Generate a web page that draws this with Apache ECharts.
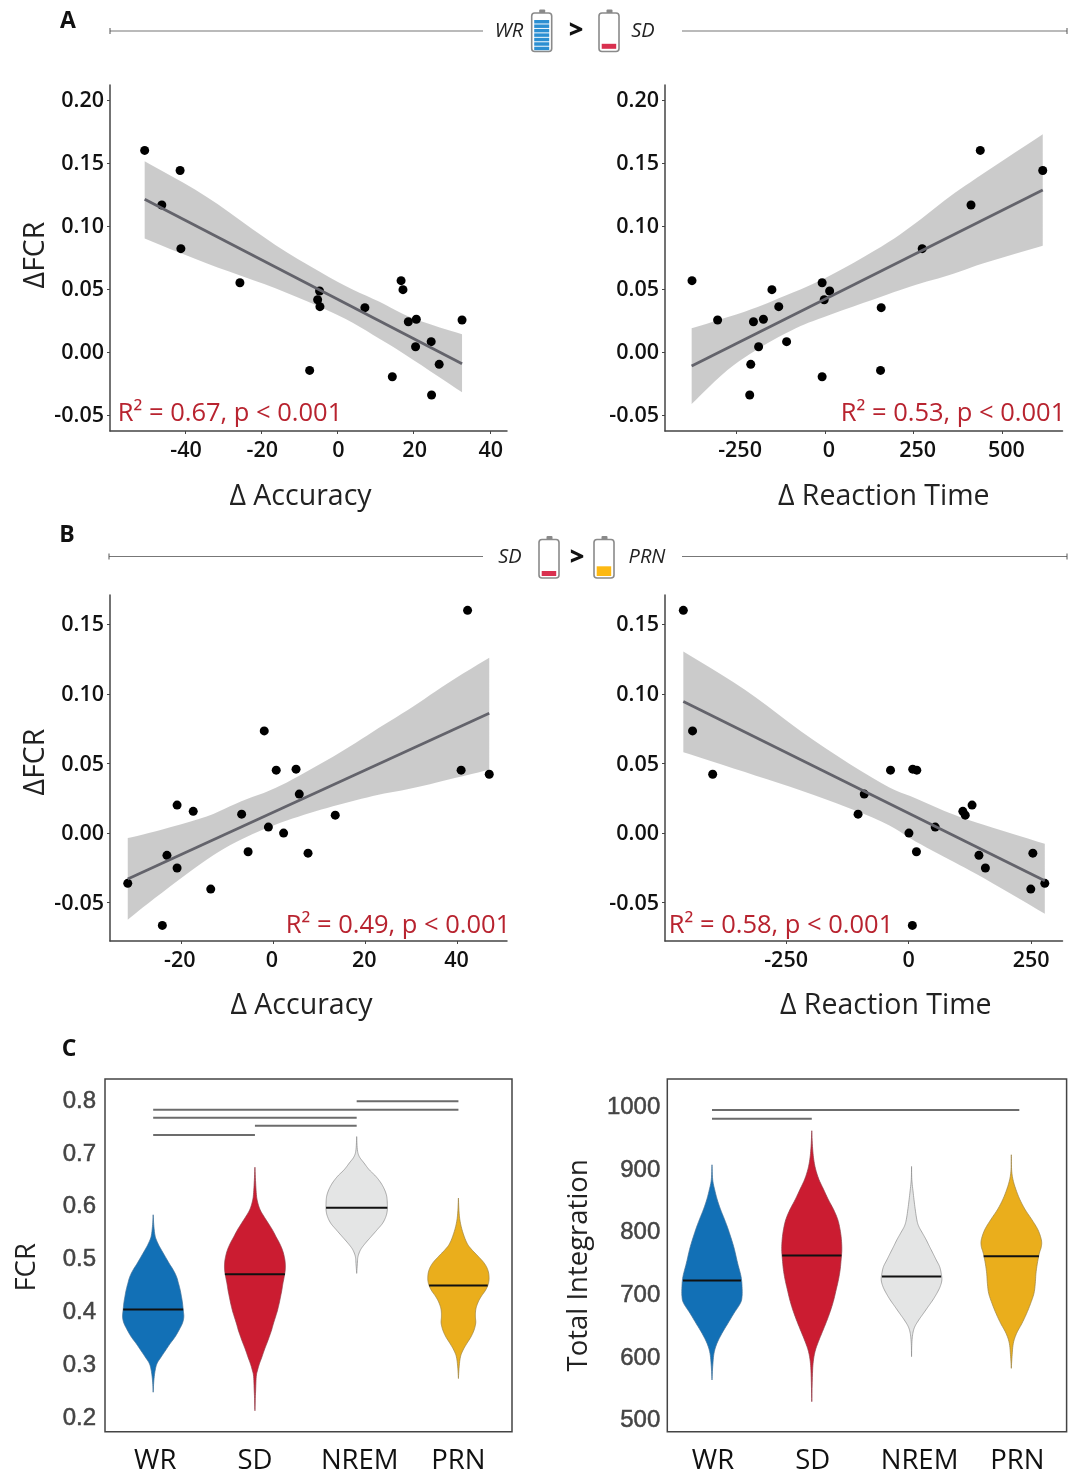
<!DOCTYPE html>
<html><head><meta charset="utf-8">
<style>html,body{margin:0;padding:0;background:#fff}#c{width:1075px;height:1473px}</style>
<script src="https://cdn.jsdelivr.net/npm/echarts@6/dist/echarts.min.js"></script>
</head><body><div id="c"></div>
<script>
// ---- Panel A, delta accuracy
const aAccX=[-50.6,-41.3,-46.1,-41.1,-25.6,-4.7,-5.2,-4.6,7.2,16.7,17.2,18.6,20.7,32.7,24.6,20.5,26.7,-7.3,14.4,24.7];
const aAccY=[0.160,0.144,0.1167,0.082,0.055,0.0484,0.0415,0.036,0.0352,0.0566,0.0495,0.024,0.026,0.0254,0.0082,0.0042,-0.0098,-0.0146,-0.0196,-0.0341];
const aAccFitX=[-50.6,32.7];
const aAccFitY=[0.1212,-0.0093];
const aAccBandX=[-50.6,-34.4,-16.3,0,10.9,19.9,32.7];
const aAccUpper=[0.1513,0.1233,0.085,0.0558,0.04,0.0267,0.014];
const aAccLower=[0.09,0.0704,0.0505,0.0294,0.0108,-0.0063,-0.032];
// ---- Panel A, delta reaction time
const aRtX=[-374,-301.9,-201,-173,-149,-129.8,-186.5,-107.7,-208.6,-211.5,-7.7,13.5,-1.9,-7.7,158.6,156.7,274,411.5,437.5,613.4];
const aRtY=[0.0566,0.0254,0.024,0.026,0.0495,0.036,0.0042,0.0082,-0.0098,-0.0341,0.055,0.0484,0.0415,-0.0196,0.0352,-0.0146,0.082,0.1167,0.160,0.144];
const aRtFitX=[-375,613.4];
const aRtFitY=[-0.0111,0.1286];
const aRtUpperX=[-375,-226,-129.8,0,158.6,254.8,351,447,613.4];
const aRtUpper=[0.0188,0.032,0.0426,0.0585,0.0836,0.1021,0.1233,0.1418,0.1728];
const aRtLowerX=[-375,-274,-178,-81.7,0,158.6,254.8,351,447,613.4];
const aRtLower=[-0.0413,-0.0143,0.0042,0.0188,0.028,0.0439,0.0532,0.0611,0.0704,0.0844];
// ---- Panel B, delta accuracy
const bAccX=[42.2,-1.9,0.7,5.0,40.8,46.9,5.7,-20.8,-17.3,-6.8,13.5,-1.0,2.3,-5.4,7.6,-23.0,-20.8,-31.5,-13.5,-24.0];
const bAccY=[0.160,0.0734,0.0452,0.0459,0.0452,0.0423,0.028,0.0201,0.0156,0.0136,0.0129,0.0043,0,-0.0134,-0.0144,-0.016,-0.0251,-0.0361,-0.0402,-0.0663];
const bAccFitX=[-31.5,46.9];
const bAccFitY=[-0.033,0.0861];
const bAccBandX=[-31.5,-25.6,-14.4,-7,0.5,8,15.5,22.9,30.4,37.9,46.9];
const bAccUpper=[-0.0036,0.0012,0.012,0.0227,0.0323,0.0455,0.0598,0.0754,0.0909,0.1077,0.126];
const bAccLower=[-0.0622,-0.0467,-0.0191,-0.0048,0.006,0.0144,0.0215,0.0275,0.0323,0.0383,0.0455];
// ---- Panel B, delta reaction time
const bRtX=[-459.6,-440.8,-399.7,-103.1,-90.5,-36.9,8.4,16.7,0.7,16.0,54.3,110.7,115.6,129.5,143.5,156.7,253.5,249.3,277.9,7.7];
const bRtY=[0.160,0.0734,0.0423,0.0136,0.028,0.0452,0.0459,0.0452,0,-0.0134,0.0043,0.0156,0.0129,0.0201,-0.016,-0.0251,-0.0144,-0.0402,-0.0361,-0.0663];
const bRtFitX=[-459.6,277.9];
const bRtFitY=[0.0945,-0.0342];
const bRtBandX=[-459.6,-334,-195,-55.7,14,83.6,153,277.9];
const bRtUpper=[0.1304,0.1029,0.067,0.0359,0.0251,0.0144,0.006,-0.0077];
const bRtLower=[0.0581,0.0438,0.0275,0.0084,-0.006,-0.0191,-0.0323,-0.0579];
// ---- Tick labels
const aAccTicks=[-40,-20,0,20,40];
const aRtTicks=[-250,0,250,500];
const bAccTicks=[-20,0,20,40];
const bRtTicks=[-250,0,250];
const aFcrTicks=[-0.05,0,0.05,0.10,0.15,0.20];
const bFcrTicks=[-0.05,0,0.05,0.10,0.15];
const fcrTicks=[0.2,0.3,0.4,0.5,0.6,0.7,0.8];
const integrationTicks=[500,600,700,800,900,1000];
const categories=['WR','SD','NREM','PRN'];
const fcrCatAt=[1.02,2.0,3.03,4.0];
const intCatAt=[1.01,2.01,3.08,4.06];
// ---- Panel C, FCR violins (value, half width in category units)
const fcrWrV=[.582,.56,.541,.528,.516,.503,.49,.478,.465,.452,.44,.427,.415,.402,.389,.377,.364,.351,.339,.326,.313,.301,.288,.269,.246];
const fcrWrW=[0,.007,.02,.046,.079,.118,.157,.196,.229,.249,.265,.278,.288,.295,.301,.288,.255,.216,.17,.124,.079,.039,.02,.007,0];
const fcrSdV=[.672,.642,.617,.604,.591,.579,.566,.554,.541,.528,.516,.503,.49,.478,.465,.452,.44,.427,.415,.402,.389,.377,.364,.351,.339,.326,.313,.301,.288,.276,.25,.231,.211];
const fcrSdW=[0,.007,.016,.029,.052,.088,.131,.17,.206,.242,.269,.288,.298,.298,.288,.275,.265,.252,.239,.223,.203,.183,.164,.141,.118,.092,.069,.046,.026,.013,.007,.003,0];
const fcrNremV=[.73,.705,.692,.68,.667,.655,.642,.629,.617,.604,.591,.579,.566,.554,.541,.528,.516,.503,.49,.471];
const fcrNremW=[0,.007,.026,.072,.124,.187,.239,.275,.295,.301,.301,.288,.255,.203,.144,.085,.039,.013,.007,0];
const fcrPrnV=[.6135,.585,.566,.547,.528,.516,.503,.49,.478,.465,.452,.44,.427,.415,.402,.389,.377,.364,.351,.339,.326,.313,.294,.272];
const fcrPrnW=[0,.007,.02,.046,.085,.131,.196,.255,.288,.301,.295,.269,.223,.19,.17,.167,.17,.154,.124,.085,.046,.02,.007,0];
const fcrMedians=[.4025,.4695,.5952,.448];
const fcrMedianW=[.295,.295,.301,.288];
const fcrSigFrom=[3,1,1,2,1];
const fcrSigTo=[4,4,3,3,2];
const fcrSigLevel=[.7967,.781,.7658,.7506,.7329];
// ---- Panel C, Total Integration violins
const intWrV=[906.4,882.4,866.4,850.4,834.4,818.4,802.4,775.7,749,727.7,711.7,695.7,685,669,653,637,621,605,583.7,562.4];
const intWrW=[0,.007,.027,.053,.087,.127,.164,.217,.257,.291,.301,.301,.284,.22,.16,.1,.05,.02,.007,0];
const intSdV=[960.8,935.7,914.4,898.4,882.4,866.4,850.4,834.4,818.4,802.4,786.4,770.4,754.4,738.4,722.4,706.4,690.4,674.4,658.4,642.4,626.4,610.4,594.4,573,527.7];
const intSdW=[0,.007,.02,.04,.073,.12,.167,.22,.261,.284,.297,.301,.294,.284,.267,.244,.22,.19,.154,.114,.073,.037,.017,.007,0];
const intNremV=[903.7,882.4,861,839.7,818.4,807.7,797,786.4,775.7,765,754.4,743.7,733,722.4,711.7,701,690.4,679.7,669,658.4,647.7,637,621,599.7];
const intNremW=[0,.003,.017,.033,.053,.073,.11,.147,.18,.214,.247,.281,.297,.304,.287,.254,.214,.167,.12,.073,.033,.013,.003,0];
const intPrnV=[922.4,898.4,882.4,866.4,850.4,834.4,818.4,802.4,786.4,775.7,765,749,733,717,701,685,669,653,637,621,599.7,581];
const intPrnW=[0,.003,.017,.047,.087,.14,.207,.267,.301,.301,.281,.261,.247,.24,.227,.194,.154,.107,.053,.02,.007,0];
const intMedians=[721.3,761.3,727.7,760.3];
const intMedianW=[.291,.297,.297,.277];
const intSigFrom=[1,1];
const intSigTo=[4.08,2];
const intSigLevel=[993.9,980];

const UI='"Open Sans","Noto Sans",sans-serif';
const VF='"Liberation Sans",Arial,sans-serif';
const violinColors=['#1270b6','#cb1c31','#e4e5e5','#eaae1c'];
const violinStroke=['#3d6f96','#8f3a45','#8c8c8c','#9c8340'];

// smooth an outline between the pixel positions the axes give (open Catmull-Rom)
function spline(p){
  const out=[],n=p.length,S=6;
  for(let i=0;i<n-1;i++){
    const a=p[Math.max(i-1,0)],b=p[i],c=p[i+1],d=p[Math.min(i+2,n-1)];
    for(let k=0;k<S;k++){
      const t=k/S,t2=t*t,t3=t2*t;
      out.push([0,1].map(j=>0.5*(2*b[j]+(c[j]-a[j])*t+(2*a[j]-5*b[j]+4*c[j]-d[j])*t2+(3*b[j]-a[j]-3*c[j]+d[j])*t3)));
    }
  }
  out.push(p[n-1]);
  return out;
}

const grids=[
 {left:110,top:85,width:397,height:346},
 {left:665,top:85,width:397.5,height:346},
 {left:110,top:595,width:397,height:346},
 {left:665,top:595,width:397.5,height:346},
 {left:105,top:1079,width:407,height:352.7,show:true,borderColor:'#444',borderWidth:1.5},
 {left:667.3,top:1079,width:399.3,height:352.7,show:true,borderColor:'#444',borderWidth:1.5}
].map(g=>Object.assign(g,{outerBoundsMode:'none',containLabel:false}));
const xAxes=[],yAxes=[],series=[];
function tickAxis(o){
  const font={color:'#111',fontFamily:UI,fontSize:21.5,fontWeight:600};
  const label=Object.assign({show:true,customValues:o.ticks,margin:o.margin,padding:o.lpad||0,formatter:o.fmt},font);
  if(o.down){
    label.formatter=v=>'{a|'+o.fmt(v)+'}';
    label.rich={a:Object.assign({padding:[o.down,0,0,0]},font)};
  }
  return {type:'value',gridIndex:o.g,min:o.min,max:o.max,scale:true,splitLine:{show:false},
    axisLine:{show:true,onZero:false,lineStyle:{color:'#444',width:1.5}},
    axisTick:{show:true,length:3,customValues:o.ticks,lineStyle:{color:'#444',width:1}},
    axisLabel:label,
    name:o.name||'',nameLocation:'middle',nameGap:o.gap||0,
    nameTextStyle:{fontFamily:UI,fontSize:o.nameSize||28.5,color:'#222',padding:o.pad||0}};
}
function scatterPanel(g,xs,ys,fitX,fitY,upX,up,loX,lo,ax,ay){
  xAxes[g]=tickAxis(ax);yAxes[g]=tickAxis(ay);
  series.push({type:'scatter',xAxisIndex:g,yAxisIndex:g,z:2,symbolSize:9,clip:false,itemStyle:{color:'#000',opacity:1},
    data:xs.map((x,i)=>[x,ys[i]])});
  series.push({type:'custom',xAxisIndex:g,yAxisIndex:g,z:3,clip:false,silent:true,
    data:upX.map((x,i)=>[x,up[i]]),
    renderItem:function(p,api){
      if(p.dataIndex!==0)return null;
      const top=spline(upX.map((x,i)=>api.coord([x,up[i]])));
      const bot=spline(loX.map((x,i)=>api.coord([x,lo[i]]))).reverse();
      return {type:'polygon',shape:{points:top.concat(bot)},style:{fill:'rgba(0,0,0,0.205)'}};
    }});
  series.push({type:'line',xAxisIndex:g,yAxisIndex:g,z:4,symbol:'none',clip:false,silent:true,
    lineStyle:{color:'#63636b',width:2.8},data:fitX.map((x,i)=>[x,fitY[i]])});
}
const f2=v=>v.toFixed(2), f0=v=>String(v);
scatterPanel(0,aAccX,aAccY,aAccFitX,aAccFitY,aAccBandX,aAccUpper,aAccBandX,aAccLower,
 {g:0,min:-59.7,max:44.5,ticks:aAccTicks,fmt:f0,margin:9,lpad:[0,0,0,2],name:'Δ Accuracy',gap:51,pad:[0,16,0,0]},
 {g:0,min:-0.0627,max:0.2119,ticks:aFcrTicks,fmt:f2,margin:6,down:2,name:'ΔFCR',gap:58,pad:[0,0,0,6]});
scatterPanel(1,aRtX,aRtY,aRtFitX,aRtFitY,aRtUpperX,aRtUpper,aRtLowerX,aRtLower,
 {g:1,min:-450,max:669,ticks:aRtTicks,fmt:f0,margin:9,lpad:[0,0,0,8],name:'Δ Reaction Time',gap:51,pad:[0,0,0,40]},
 {g:1,min:-0.0627,max:0.2119,ticks:aFcrTicks,fmt:f2,margin:6,down:2});
scatterPanel(2,bAccX,bAccY,bAccFitX,bAccFitY,bAccBandX,bAccUpper,bAccBandX,bAccLower,
 {g:2,min:-35.35,max:50.75,ticks:bAccTicks,fmt:f0,margin:9,lpad:[0,2,0,0],name:'Δ Accuracy',gap:50,pad:[0,14,0,0]},
 {g:2,min:-0.0775,max:0.171,ticks:bFcrTicks,fmt:f2,margin:6,down:2,name:'ΔFCR',gap:58,pad:[0,0,0,12]});
scatterPanel(3,bRtX,bRtY,bRtFitX,bRtFitY,bRtBandX,bRtUpper,bRtBandX,bRtLower,
 {g:3,min:-497,max:314,ticks:bRtTicks,fmt:f0,margin:9,name:'Δ Reaction Time',gap:50,pad:[0,0,0,44]},
 {g:3,min:-0.0775,max:0.171,ticks:bFcrTicks,fmt:f2,margin:6,down:2});

function violinAxes(g,xmin,xmax,ymin,ymax,ticks,fmt,name,gap,pad,catAt,lm){
  const vfont={color:'#444',fontFamily:VF,fontSize:24,fontWeight:'normal',textBorderColor:'#444',textBorderWidth:0.5};
  xAxes[g]={type:'value',gridIndex:g,min:xmin,max:xmax,splitLine:{show:false},axisLine:{show:false},axisTick:{show:false},
    axisLabel:{customValues:catAt,formatter:v=>categories[catAt.indexOf(v)],color:'#111',fontFamily:UI,fontSize:27.5,margin:15}};
  yAxes[g]={type:'value',gridIndex:g,min:ymin,max:ymax,splitLine:{show:false},axisLine:{show:false},axisTick:{show:false},
    axisLabel:Object.assign({customValues:ticks,formatter:v=>'{a|'+fmt(v)+'}',margin:lm,
      rich:{a:Object.assign({padding:[3,0,0,0]},vfont)}},vfont),
    name,nameLocation:'middle',nameGap:gap,nameTextStyle:{fontFamily:UI,fontSize:27.5,color:'#222',padding:pad||0}};
}
function violin(g,i,vals,wids,med,medW){
  const c=i+1;
  series.push({type:'custom',xAxisIndex:g,yAxisIndex:g,z:2,clip:false,silent:true,
    data:vals.map(v=>[c,v]),
    renderItem:function(p,api){
      if(p.dataIndex!==0)return null;
      const right=spline(vals.map((v,k)=>api.coord([c+wids[k],v])));
      const left=spline(vals.map((v,k)=>api.coord([c-wids[k],v]))).reverse();
      return {type:'polygon',shape:{points:right.concat(left)},style:{fill:violinColors[i],stroke:violinStroke[i],lineWidth:0.7}};
    }});
  series.push({type:'line',xAxisIndex:g,yAxisIndex:g,z:3,symbol:'none',silent:true,clip:false,
    lineStyle:{color:'#111',width:2},data:[[c-medW,med],[c+medW,med]]});
}
function sigLines(g,from,to,level){
  level.forEach((v,i)=>series.push({type:'line',xAxisIndex:g,yAxisIndex:g,z:3,symbol:'none',silent:true,clip:false,
    lineStyle:{color:'#6c6c6c',width:2},data:[[from[i],v],[to[i],v]]}));
}
violinAxes(4,0.5265,4.5265,0.1713,0.839,fcrTicks,v=>v.toFixed(1),'FCR',64,[0,24,0,0],fcrCatAt,9);
violinAxes(5,0.552,4.554,479.7,1043.5,integrationTicks,f0,'Total Integration',74,[0,20,0,0],intCatAt,7);
[[fcrWrV,fcrWrW],[fcrSdV,fcrSdW],[fcrNremV,fcrNremW],[fcrPrnV,fcrPrnW]].forEach((a,i)=>violin(4,i,a[0],a[1],fcrMedians[i],fcrMedianW[i]));
[[intWrV,intWrW],[intSdV,intSdW],[intNremV,intNremW],[intPrnV,intPrnW]].forEach((a,i)=>violin(5,i,a[0],a[1],intMedians[i],intMedianW[i]));
sigLines(4,fcrSigFrom,fcrSigTo,fcrSigLevel);
sigLines(5,intSigFrom,intSigTo,intSigLevel);

// ---- decoration
const GR='#8a8a8a';
function hline(x1,x2,y){return {type:'line',shape:{x1,y1:y,x2,y2:y},style:{stroke:'#777',lineWidth:1.2}};}
function vtick(x,y){return {type:'line',shape:{x1:x,y1:y-3,x2:x,y2:y+3},style:{stroke:'#555',lineWidth:1}};}
function txt(t,x,y,o){return {type:'text',x,y,style:Object.assign({text:t,fontFamily:UI,fill:'#111',align:'center',verticalAlign:'middle'},o)};}
function battery(x,top,extra){
  const els=[
    {type:'rect',shape:{x:x+7.5,y:top,width:6,height:4,r:1},style:{fill:GR}},
    {type:'rect',shape:{x:x,y:top+3.5,width:20,height:38.5,r:3},style:{fill:'#fff',stroke:GR,lineWidth:1.6}}
  ];
  return els.concat(extra);
}
const r=(x,y,w,h,f)=>({type:'rect',shape:{x,y,width:w,height:h},style:{fill:f}});
const blueBars=[0,1,2,3,4,5,6].map(i=>r(534.2,20+i*4.45,15,3.5,'#2c8fd2'));
const red='#b8232f';
const graphic=[].concat(
  [hline(110,483,31),vtick(110,31),hline(682,1067,31),vtick(1067,31)],
  [hline(109,483,556.5),vtick(109,556.5),hline(682,1067,556.5),vtick(1067,556.5)],
  battery(531.7,9.5,blueBars),
  battery(599,9.5,[r(601.7,43.8,14.5,5,'#d9304f')]),
  battery(539,536,[r(541.7,571,14.5,5,'#d9304f')]),
  battery(594,536,[r(596.7,566.3,14.5,9.7,'#fdb913')]),
  [
   txt('WR',509,31,{fontSize:20,fontStyle:'italic',fill:'#222'}),
   txt('SD',643,31,{fontSize:20,fontStyle:'italic',fill:'#222'}),
   txt('SD',510,557,{fontSize:20,fontStyle:'italic',fill:'#222'}),
   txt('PRN',647,557,{fontSize:20,fontStyle:'italic',fill:'#222'}),
   txt('>',576,31,{fontSize:25,fontWeight:800}),
   txt('>',577,558,{fontSize:25,fontWeight:800}),
   txt('A',68,21,{fontSize:23,fontWeight:700}),
   txt('B',67,535,{fontSize:23,fontWeight:700}),
   txt('C',69,1049,{fontSize:23,fontWeight:700}),
   txt('R² = 0.67, p < 0.001',230,414,{fontSize:25.5,fill:red}),
   txt('R² = 0.53, p < 0.001',953,414,{fontSize:25.5,fill:red}),
   txt('R² = 0.49, p < 0.001',398,926,{fontSize:25.5,fill:red}),
   txt('R² = 0.58, p < 0.001',781,926,{fontSize:25.5,fill:red})
  ]
);
const chart=echarts.init(document.getElementById('c'),null,{renderer:'canvas'});
chart.setOption({animation:false,backgroundColor:'#fff',tooltip:{show:false},legend:{show:false},
  grid:grids,xAxis:xAxes,yAxis:yAxes,series,graphic});
</script></body></html>
